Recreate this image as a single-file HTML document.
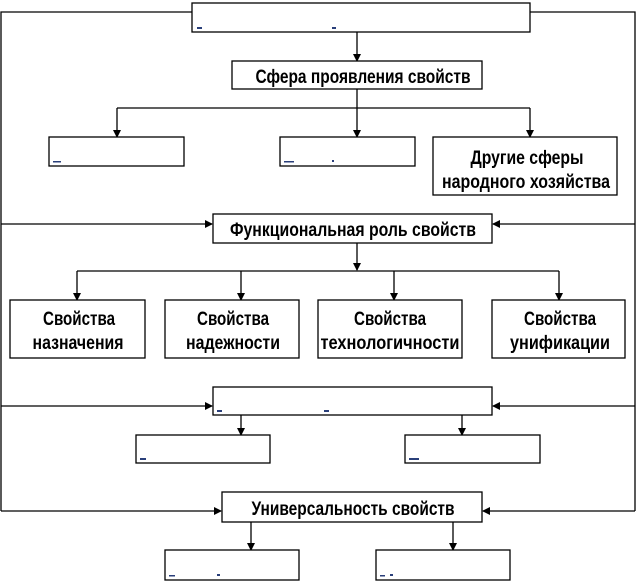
<!DOCTYPE html>
<html><head><meta charset="utf-8"><style>
html,body{margin:0;padding:0;background:#fff;width:636px;height:582px;overflow:hidden}
svg text{font-family:"Liberation Sans Narrow","Liberation Sans",sans-serif;font-weight:bold;font-size:19px;fill:#000}
</style></head><body>
<svg width="636" height="582" viewBox="0 0 636 582" xmlns="http://www.w3.org/2000/svg">
<defs><marker id="a" markerWidth="8" markerHeight="8" refX="7" refY="4" orient="auto" markerUnits="userSpaceOnUse"><path d="M0,0 L8,4 L0,8 z" fill="#000"/></marker></defs>
<g stroke="#000" stroke-width="1.3" fill="none">
<polyline points="192,12 1,12 1,511"/>
<polyline points="530,12 635,12 635,511"/>
<line x1="1" y1="224" x2="212" y2="224" marker-end="url(#a)"/>
<line x1="635" y1="224" x2="493" y2="224" marker-end="url(#a)"/>
<line x1="1" y1="406" x2="212" y2="406" marker-end="url(#a)"/>
<line x1="635" y1="406" x2="493" y2="406" marker-end="url(#a)"/>
<line x1="1" y1="511" x2="221" y2="511" marker-end="url(#a)"/>
<line x1="635" y1="511" x2="483" y2="511" marker-end="url(#a)"/>
<line x1="357" y1="32" x2="357" y2="61" marker-end="url(#a)"/>
<line x1="357" y1="89" x2="357" y2="137" marker-end="url(#a)"/>
<line x1="117" y1="108" x2="530" y2="108"/>
<line x1="117" y1="108" x2="117" y2="137" marker-end="url(#a)"/>
<line x1="530" y1="108" x2="530" y2="137" marker-end="url(#a)"/>
<line x1="357" y1="243" x2="357" y2="270" marker-end="url(#a)"/>
<line x1="77" y1="271" x2="559" y2="271"/>
<line x1="77" y1="271" x2="77" y2="300" marker-end="url(#a)"/>
<line x1="559" y1="271" x2="559" y2="300" marker-end="url(#a)"/>
<line x1="241" y1="271" x2="241" y2="300" marker-end="url(#a)"/>
<line x1="394" y1="271" x2="394" y2="300" marker-end="url(#a)"/>
<line x1="241" y1="415" x2="241" y2="435" marker-end="url(#a)"/>
<line x1="462" y1="415" x2="462" y2="435" marker-end="url(#a)"/>
<line x1="251" y1="522" x2="251" y2="550" marker-end="url(#a)"/>
<line x1="453" y1="522" x2="453" y2="550" marker-end="url(#a)"/>
</g>
<g stroke="#000" stroke-width="1.3" fill="#fff">
<rect x="192" y="3" width="338" height="29"/>
<rect x="232" y="61" width="250" height="28"/>
<rect x="49" y="137" width="135" height="29"/>
<rect x="280" y="137" width="135" height="29"/>
<rect x="433" y="137" width="184" height="58"/>
<rect x="213" y="214" width="279" height="29"/>
<rect x="10" y="300" width="135" height="58"/>
<rect x="165" y="300" width="134" height="58"/>
<rect x="318" y="300" width="144" height="58"/>
<rect x="492" y="300" width="133" height="58"/>
<rect x="213" y="387" width="279" height="28"/>
<rect x="136" y="435" width="134" height="28"/>
<rect x="405" y="435" width="135" height="28"/>
<rect x="222" y="492" width="260" height="30"/>
<rect x="165" y="550" width="134" height="30"/>
<rect x="376" y="550" width="134" height="30"/>
</g>
<g fill="#2a3f7a">
<rect x="197" y="27" width="5" height="2"/><rect x="332" y="27" width="4" height="2"/>
<rect x="53" y="161" width="8" height="1.5"/><rect x="284" y="161" width="10" height="1.5"/><rect x="332" y="160" width="2" height="2"/>
<rect x="217" y="410" width="5" height="2"/><rect x="324" y="410" width="5" height="2"/>
<rect x="140" y="458" width="6" height="2"/><rect x="409" y="458" width="10" height="2"/>
<rect x="169" y="575" width="6" height="1.5"/><rect x="217" y="574" width="3" height="2"/>
<rect x="380" y="575" width="5" height="1.5"/><rect x="390" y="574" width="3" height="2"/>
</g>
<g text-anchor="middle">
<text x="363" y="83" textLength="215" lengthAdjust="spacingAndGlyphs">Сфера проявления свойств</text>
<text x="527" y="164" textLength="113" lengthAdjust="spacingAndGlyphs">Другие сферы</text>
<text x="526" y="188" textLength="168" lengthAdjust="spacingAndGlyphs">народного хозяйства</text>
<text x="353" y="236" textLength="246" lengthAdjust="spacingAndGlyphs">Функциональная роль свойств</text>
<text x="79" y="325" textLength="72" lengthAdjust="spacingAndGlyphs">Свойства</text><text x="78" y="349" textLength="91" lengthAdjust="spacingAndGlyphs">назначения</text>
<text x="233" y="325" textLength="72" lengthAdjust="spacingAndGlyphs">Свойства</text><text x="233" y="349" textLength="94" lengthAdjust="spacingAndGlyphs">надежности</text>
<text x="390" y="325" textLength="72" lengthAdjust="spacingAndGlyphs">Свойства</text><text x="390" y="349" textLength="139" lengthAdjust="spacingAndGlyphs">технологичности</text>
<text x="560" y="325" textLength="72" lengthAdjust="spacingAndGlyphs">Свойства</text><text x="560" y="349" textLength="100" lengthAdjust="spacingAndGlyphs">унификации</text>
<text x="353" y="515" textLength="203" lengthAdjust="spacingAndGlyphs">Универсальность свойств</text>
</g>
</svg>
</body></html>
